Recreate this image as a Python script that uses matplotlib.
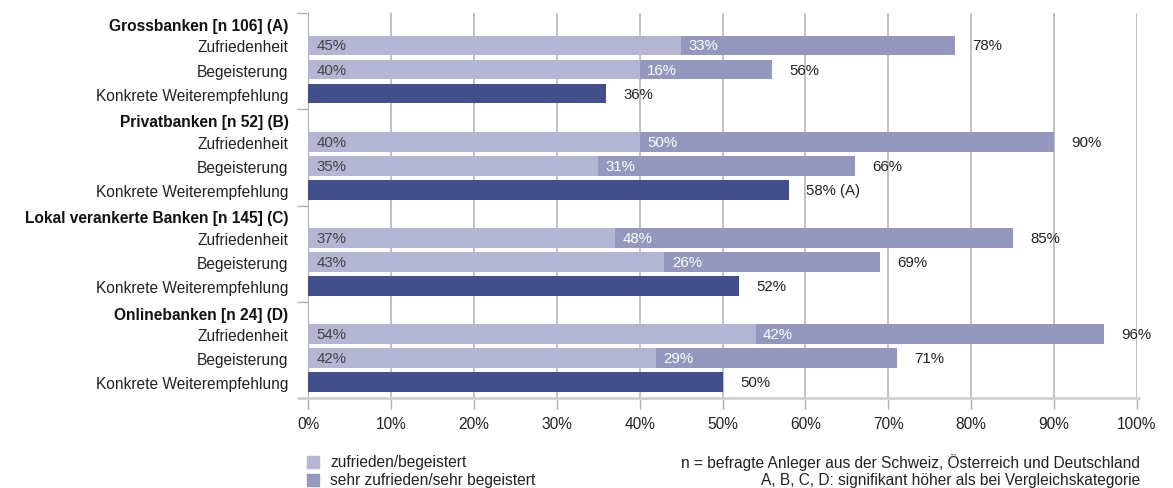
import matplotlib.pyplot as plt

plt.rcParams['font.family'] = ['Liberation Sans', 'DejaVu Sans']

# Data
groups = ['Grossbanken [n 106] (A)', 'Privatbanken [n 52] (B)',
          'Lokal verankerte Banken [n 145] (C)', 'Onlinebanken [n 24] (D)']
items = ['Zufriedenheit', 'Begeisterung', 'Konkrete Weiterempfehlung']
zuf_base = [45, 40, 37, 54]
zuf_top = [33, 50, 48, 42]
beg_base = [40, 35, 43, 42]
beg_top = [16, 31, 26, 29]
konkret = [36, 58, 52, 50]
konkret_note = ['', ' (A)', '', '']
xticks = [0, 10, 20, 30, 40, 50, 60, 70, 80, 90, 100]

c_light = '#b4b6d4'
c_mid = '#9598be'
c_dark = '#424f8a'
txt = '#222222'
fs = 11.2
fv = 10.8

fig = plt.figure(figsize=(11.73, 4.89), dpi=100)
ax = fig.add_axes([308 / 1173, 1 - 399 / 489, 829 / 1173, 385 / 489])

ylabels = []
ypos = []
h = 0.82
off = -0.15
for g in range(4):
    y0 = 4 * g
    ylabels.append(groups[g])
    ypos.append(y0 - 0.05)
    yz, yb, yk = y0 + 1 + off, y0 + 2 + off, y0 + 3 + off
    ypos += [yz, yb, yk]
    ylabels += items
    for y, base, top in [(yz, zuf_base[g], zuf_top[g]), (yb, beg_base[g], beg_top[g])]:
        ax.barh(y, base, height=h, color=c_light, zorder=3)
        ax.barh(y, top, left=base, height=h, color=c_mid, zorder=3)
        ax.text(1.0, y, f'{base}%', va='center', ha='left', fontsize=fv, color='#444444', zorder=4)
        ax.text(base + 0.9, y, f'{top}%', va='center', ha='left', fontsize=fv, color='white', zorder=4)
        ax.text(base + top + 2.1, y, f'{base + top}%', va='center', ha='left', fontsize=fv, color=txt)
    ax.barh(yk, konkret[g], height=h, color=c_dark, zorder=3)
    ax.text(konkret[g] + 2.1, yk, f'{konkret[g]}%{konkret_note[g]}', va='center', ha='left',
            fontsize=fv, color=txt)

ax.set_xlim(0, 100)
ax.set_ylim(15.5, -0.5)
ax.set_yticks(ypos)
ax.set_yticklabels(ylabels, fontsize=fs, color=txt)
for i, lab in enumerate(ax.get_yticklabels()):
    if i % 4 == 0:
        lab.set_fontweight('bold')
        lab.set_color('#111111')
ax.tick_params(axis='y', length=0, pad=14)
ax.set_yticks([-0.5, 3.5, 7.5, 11.5, 15.5], minor=True)
ax.tick_params(axis='y', which='minor', length=8, color='#b0b0b0', width=1)

ax.set_xticks(xticks)
ax.set_xticklabels([f'{t}%' for t in xticks], fontsize=fs, color=txt)
ax.tick_params(axis='x', length=8, color='#b0b0b0', width=1, pad=5)
ax.grid(axis='x', color='#b0b0b0', linewidth=1.1, zorder=0)

for s in ['top', 'right']:
    ax.spines[s].set_visible(False)
ax.spines['left'].set_color('#b0b0b0')
ax.spines['bottom'].set_color('#d0d0d0')
ax.spines['bottom'].set_linewidth(2)
ax.spines['bottom'].set_bounds(-1, 100.3)

# Legend and notes
fig.patches.append(plt.Rectangle((307 / 1173, 1 - 469 / 489), 12 / 1173, 12 / 489,
                                 transform=fig.transFigure, color=c_light))
fig.patches.append(plt.Rectangle((307 / 1173, 1 - 487 / 489), 12 / 1173, 12 / 489,
                                 transform=fig.transFigure, color=c_mid))
fig.text(330 / 1173, 1 - 463 / 489, 'zufrieden/begeistert', fontsize=fs, color=txt, va='center')
fig.text(330 / 1173, 1 - 481 / 489, 'sehr zufrieden/sehr begeistert', fontsize=fs, color=txt, va='center')
fig.text(1140 / 1173, 1 - 463 / 489, 'n = befragte Anleger aus der Schweiz, Österreich und Deutschland',
         fontsize=fs, color=txt, va='center', ha='right')
fig.text(1140 / 1173, 1 - 481 / 489, 'A, B, C, D: signifikant höher als bei Vergleichskategorie',
         fontsize=fs, color=txt, va='center', ha='right')

fig.savefig('out.png', dpi=100)
